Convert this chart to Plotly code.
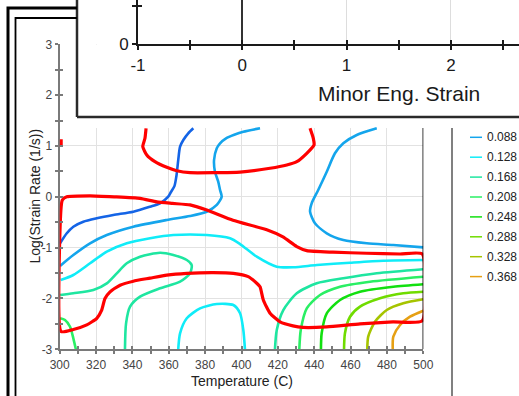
import plotly.graph_objects as go

W, H = 519, 396
FONT = "Liberation Sans, Arial, sans-serif"

# ---------------- data (Temperature in C, log strain rate) ----------------
levels = [0.048, 0.088, 0.128, 0.168, 0.208, 0.248, 0.288, 0.328, 0.368]
level_colors = ["#1464e6", "#14a5ec", "#10ecf8", "#1ee6a0", "#2aef64",
                "#12e010", "#70dc00", "#a6c400", "#e6a014"]

c048_T = [300.2, 303.9, 307.5, 313.0, 320.4, 329.5, 340.5, 349.7, 355.2, 359.7, 361.2, 363.1, 364.2, 365.2, 366.2, 368.0, 370.7, 373.5]
c048_Y = [-0.915, -0.718, -0.588, -0.49, -0.423, -0.358, -0.293, -0.195, -0.128, 0.002, 0.095, 0.21, 0.41, 0.72, 0.986, 1.117, 1.249, 1.348]

c088a_T = [300.2, 307.5, 316.7, 325.9, 340.5, 358.9, 371.7, 380.9, 386.4, 389.1, 388.2, 387.2, 385.4, 384.9, 386.4, 388.2, 391.5, 396.0, 401.0, 410.2]
c088a_Y = [-1.36, -1.145, -0.915, -0.752, -0.588, -0.456, -0.378, -0.293, -0.161, 0.002, 0.134, 0.297, 0.494, 0.724, 0.954, 1.053, 1.15, 1.22, 1.28, 1.348]

c088b_T = [474.4, 463.4, 456.0, 451.4, 446.9, 442.2, 438.6, 437.7, 440.4, 446.9, 456.0, 468.9, 483.5, 500.0]
c088b_Y = [1.348, 1.216, 1.053, 0.856, 0.494, 0.134, -0.128, -0.293, -0.521, -0.718, -0.85, -0.915, -0.948, -0.994]

c128a_T = [300.5, 307.5, 316.7, 325.9, 336.9, 349.7, 362.5, 380.9, 393.7, 399.2, 408.4, 419.4, 428.5, 441.4, 459.7, 478.0, 500.0]
c128a_Y = [-1.637, -1.538, -1.308, -1.08, -0.915, -0.816, -0.752, -0.752, -0.816, -0.93, -1.178, -1.375, -1.387, -1.342, -1.296, -1.257, -1.243]

c128b_T = [365.2, 366.2, 369.9, 377.2, 386.4, 395.5, 399.2, 401.0, 401.9]
c128b_Y = [-3.0, -2.685, -2.39, -2.194, -2.109, -2.129, -2.292, -2.621, -3.0]

c168a_T = [300.2, 307.5, 318.5, 325.9, 331.4, 336.9, 344.2, 355.2, 362.5, 369.9, 372.6, 371.7, 366.2, 355.2, 344.2, 338.7, 336.5, 335.9]
c168a_Y = [-1.931, -1.898, -1.834, -1.702, -1.505, -1.308, -1.178, -1.10, -1.145, -1.243, -1.342, -1.505, -1.670, -1.80, -1.965, -2.162, -2.489, -3.0]

c168b_T = [418.4, 419.4, 423.0, 430.4, 441.4, 456.0, 474.4, 500.0]
c168b_Y = [-3.0, -2.62, -2.227, -1.898, -1.702, -1.603, -1.505, -1.426]

c208a_T = [300.2, 302.9, 305.7, 307.5, 308.9]
c208a_Y = [-2.39, -2.424, -2.556, -2.784, -3.0]

c208b_T = [431.8, 432.6, 435.9, 443.2, 454.2, 470.7, 500.0]
c208b_Y = [-3.0, -2.62, -2.194, -1.932, -1.769, -1.670, -1.572]

c248_T = [443.7, 444.1, 446.9, 454.2, 465.2, 483.5, 500.0]
c248_Y = [-3.0, -2.685, -2.292, -2.03, -1.867, -1.769, -1.72]

c288_T = [456.4, 456.9, 459.7, 465.2, 476.2, 489.0, 500.0]
c288_Y = [-3.0, -2.685, -2.36, -2.162, -1.997, -1.898, -1.867]

c328_T = [469.2, 469.7, 473.4, 479.9, 489.0, 500.0]
c328_Y = [-3.0, -2.752, -2.457, -2.227, -2.095, -2.017]

c368_T = [483.2, 483.5, 487.2, 492.7, 500.0]
c368_Y = [-3.0, -2.752, -2.522, -2.359, -2.241]

# instability boundaries (red)
redA_T = [347.5, 346.9, 345.7, 347.9, 352.4, 358.9, 364.4, 371.7, 384.5, 399.2, 415.7, 424.9, 430.4, 435.9, 439.9, 439.5, 437.7]
redA_Y = [1.348, 1.151, 0.986, 0.822, 0.691, 0.580, 0.513, 0.474, 0.474, 0.486, 0.561, 0.626, 0.691, 0.856, 1.019, 1.151, 1.348]

redB_T = [300.8, 301.5, 303.9, 316.7, 330.0, 344.2, 353.4, 362.0, 371.7, 380.9, 395.3, 413.9, 422.8, 430.4, 435.9, 450.3, 468.9, 487.2, 499.4,
          499.4, 483.3, 465.2, 446.9, 433.8, 428.3, 421.2, 415.7, 412.0, 410.2, 408.4, 403.7, 395.5, 384.5, 369.9, 358.9, 349.7, 340.5,
          333.2, 327.7, 324.9, 323.1, 320.4, 314.9, 307.5, 300.8, 300.8]
redB_Y = [-0.20, -0.06, 0.00, 0.02, 0.00, -0.03, -0.10, -0.13, -0.16, -0.26, -0.46, -0.65, -0.79, -0.98, -1.06, -1.09, -1.11, -1.125, -1.125,
          -2.44, -2.46, -2.50, -2.56, -2.57, -2.54, -2.46, -2.29, -2.03, -1.77, -1.70, -1.57, -1.505, -1.49, -1.505, -1.54, -1.60, -1.66,
          -1.74, -1.87, -2.00, -2.23, -2.39, -2.52, -2.61, -2.65, -0.20]

redC_T = [300.8, 300.8]
redC_Y = [0.99, 1.13]

# axis ticks
temp_ticks = [300, 320, 340, 360, 380, 400, 420, 440, 460, 480, 500]
logsr_ticks = [-3, -2, -1, 0, 1, 2, 3]
logsr_text = ["-3", "-2", "-1", "0", "1", "2", "3"]
minor_ticks = [-1, 0, 1, 2]
minor_text = ["-1", "0", "1", "2"]
legend_levels = levels[1:]
legend_colors = level_colors[1:]

contours = [
    (0.048, c048_T, c048_Y), (0.088, c088a_T, c088a_Y), (0.088, c088b_T, c088b_Y),
    (0.128, c128a_T, c128a_Y), (0.128, c128b_T, c128b_Y),
    (0.168, c168a_T, c168a_Y), (0.168, c168b_T, c168b_Y),
    (0.208, c208a_T, c208a_Y), (0.208, c208b_T, c208b_Y),
    (0.248, c248_T, c248_Y), (0.288, c288_T, c288_Y),
    (0.328, c328_T, c328_Y), (0.368, c368_T, c368_Y),
]
reds = [(redA_T, redA_Y), (redB_T, redB_Y), (redC_T, redC_Y)]

# ---------------- helpers (pixel -> paper) ----------------
def px(x):
    return x / W

def py(y):
    return 1 - y / H

fig = go.Figure()

for lvl, T, Y in contours:
    col = level_colors[levels.index(lvl)]
    fig.add_trace(go.Scatter(x=T, y=Y, mode="lines", name=f"{lvl:.3f}",
                             line=dict(color=col, width=2.6, shape="spline", smoothing=0.7),
                             showlegend=False, hoverinfo="skip"))
for T, Y in reds:
    fig.add_trace(go.Scatter(x=T, y=Y, mode="lines", name="instability",
                             line=dict(color="#ff0000", width=3.2, shape="spline", smoothing=0.5),
                             showlegend=False, hoverinfo="skip"))

# empty traces so that overlay/inset axes exist
for xa, ya in [("x5", "y"), ("x", "y5"), ("x2", "y2"), ("x6", "y2"), ("x2", "y6")]:
    fig.add_trace(go.Scatter(x=[], y=[], xaxis=xa, yaxis=ya, showlegend=False, hoverinfo="skip"))

main_x_dom = [px(59.7), px(423.3)]
main_y_dom = [py(349.3), py(44.3)]
y_top_visible = (196.8 - 128.0) / 50.83

AX = "#7a7a7a"
INK = "#1a1a1a"
TICKF = dict(family=FONT, size=12, color="#444")
XR2 = [-1, -1 + (519 - 138) / 104.3]
YR2 = [0, 44.3 / 38.3]

fig.update_layout(
    template="none",
    width=W, height=H, margin=dict(l=0, r=0, t=0, b=0, pad=0), autosize=False,
    paper_bgcolor="white", plot_bgcolor="white", showlegend=False,
    xaxis=dict(domain=main_x_dom, range=[300, 500], tickmode="array", tickvals=temp_ticks,
               ticks="outside", ticklen=3, tickwidth=1.5, tickcolor=AX,
               minor=dict(dtick=10, tick0=300, ticks="outside", ticklen=3, tickwidth=1.5, tickcolor=AX, showgrid=False),
               showline=True, linecolor=AX, linewidth=2, showgrid=True, gridcolor="#e2e2e2", gridwidth=1,
               zeroline=False, tickfont=TICKF, anchor="y", automargin=False),
    yaxis=dict(domain=main_y_dom, range=[-3, 3], tickmode="array", tickvals=logsr_ticks, ticktext=logsr_text,
               ticks="outside", ticklen=3, tickwidth=1.5, tickcolor=AX,
               minor=dict(dtick=0.5, tick0=0, ticks="outside", ticklen=3, tickwidth=1.5, tickcolor=AX, showgrid=False),
               showline=True, linecolor=AX, linewidth=2, showgrid=True, gridcolor="#e2e2e2", gridwidth=1,
               zeroline=False, tickfont=TICKF, anchor="x", layer="below traces", automargin=False),
    xaxis5=dict(overlaying="x", anchor="y", range=[300, 500], tickmode="array", tickvals=temp_ticks,
                ticks="inside", ticklen=3, tickwidth=1.5, tickcolor=AX, showticklabels=False,
                minor=dict(dtick=10, tick0=300, ticks="inside", ticklen=3, tickwidth=1.5, tickcolor=AX),
                showline=False, showgrid=False, zeroline=False, automargin=False),
    yaxis5=dict(overlaying="y", anchor="x", range=[-3, 3], tickmode="array", tickvals=logsr_ticks,
                ticks="inside", ticklen=3, tickwidth=1.5, tickcolor=AX, showticklabels=False,
                minor=dict(dtick=0.5, tick0=0, ticks="inside", ticklen=3, tickwidth=1.5, tickcolor=AX),
                showline=False, showgrid=False, zeroline=False, automargin=False),
    xaxis2=dict(domain=[px(138), 1], range=XR2, anchor="y2",
                tickmode="array", tickvals=minor_ticks, ticktext=minor_text,
                ticks="outside", ticklen=4, tickwidth=1.5, tickcolor=INK,
                minor=dict(dtick=0.5, tick0=0, ticks="outside", ticklen=4, tickwidth=1.5, tickcolor=INK, showgrid=False),
                showline=True, linecolor=INK, linewidth=2, showgrid=True, gridcolor="#dddddd",
                zeroline=True, zerolinecolor="#333333", zerolinewidth=2,
                tickfont=dict(family=FONT, size=17, color=INK), automargin=False),
    yaxis2=dict(domain=[py(44.3), 1], range=YR2, anchor="x2",
                tickmode="array", tickvals=[0, 1], ticktext=["0", ""],
                ticks="outside", ticklen=4, tickwidth=1.5, tickcolor=INK,
                showline=True, linecolor=INK, linewidth=2, showgrid=False, zeroline=False,
                tickfont=dict(family=FONT, size=17, color=INK), automargin=False),
    xaxis6=dict(overlaying="x2", anchor="y2", range=XR2,
                tickmode="array", tickvals=minor_ticks, ticks="inside", ticklen=4, tickwidth=1.5,
                tickcolor=INK, showticklabels=False,
                minor=dict(dtick=0.5, tick0=0, ticks="inside", ticklen=4, tickwidth=1.5, tickcolor=INK),
                showline=False, showgrid=False, zeroline=False, automargin=False),
    yaxis6=dict(overlaying="y2", anchor="x2", range=YR2, tickmode="array", tickvals=[0, 1],
                ticks="inside", ticklen=4, tickwidth=1.5, tickcolor=INK, showticklabels=False,
                showline=False, showgrid=False, zeroline=False, automargin=False),
)

shapes = []
# hide grid above the visible contour area
shapes.append(dict(type="rect", xref="x", yref="y", x0=300, x1=500, y0=y_top_visible, y1=3,
                   fillcolor="white", line=dict(width=0), layer="between"))
# right border of the map
shapes.append(dict(type="line", xref="x", yref="y", x0=500, x1=500, y0=-3, y1=y_top_visible,
                   line=dict(color="black", width=1.5), layer="above"))
# inset window border
shapes.append(dict(type="line", xref="paper", yref="paper", x0=px(77), x1=px(77), y0=py(117), y1=1.01,
                   line=dict(color="#2a2a2a", width=2.5), layer="above"))
shapes.append(dict(type="line", xref="paper", yref="paper", x0=px(77), x1=1.01, y0=py(117), y1=py(117),
                   line=dict(color="#2a2a2a", width=2.5), layer="above"))
# outer window frames
shapes.append(dict(type="path", xref="paper", yref="paper",
                   path=f"M {px(8)},{py(397)} L {px(8)},{py(8)} L {px(77)},{py(8)}",
                   line=dict(color="black", width=3), layer="above"))
shapes.append(dict(type="path", xref="paper", yref="paper",
                   path=f"M {px(15.5)},{py(397)} L {px(15.5)},{py(18)} L {px(77)},{py(18)}",
                   line=dict(color="black", width=1.8), layer="above"))
# legend separator
shapes.append(dict(type="line", xref="paper", yref="paper", x0=px(452), x1=px(452), y0=py(128), y1=py(397),
                   line=dict(color="#808080", width=2), layer="above"))

annotations = []
for i, (lvl, col) in enumerate(zip(legend_levels, legend_colors)):
    yy = 137.3 + 19.9 * i
    shapes.append(dict(type="line", xref="paper", yref="paper", x0=px(470), x1=px(482), y0=py(yy), y1=py(yy),
                       line=dict(color=col, width=1.5), layer="above"))
    annotations.append(dict(x=px(484.5), y=py(yy), xref="paper", yref="paper", text=f"{lvl:.3f}",
                            showarrow=False, xanchor="left", yanchor="middle",
                            font=dict(family=FONT, size=12, color="#222")))

annotations.append(dict(x=px(241.5), y=py(381), xref="paper", yref="paper", text="Temperature (C)",
                        showarrow=False, xanchor="center", yanchor="middle",
                        font=dict(family=FONT, size=14, color="#222")))
annotations.append(dict(x=px(34), y=py(196.5), xref="paper", yref="paper", text="Log(Strain Rate (1/s))",
                        showarrow=False, xanchor="center", yanchor="middle", textangle=-90,
                        font=dict(family=FONT, size=14, color="#222")))
annotations.append(dict(x=1.5, y=py(93), xref="x2", yref="paper", text="Minor Eng. Strain",
                        showarrow=False, xanchor="center", yanchor="middle",
                        font=dict(family=FONT, size=21, color=INK)))

fig.update_layout(shapes=shapes, annotations=annotations)
fig.write_html("out.html")
